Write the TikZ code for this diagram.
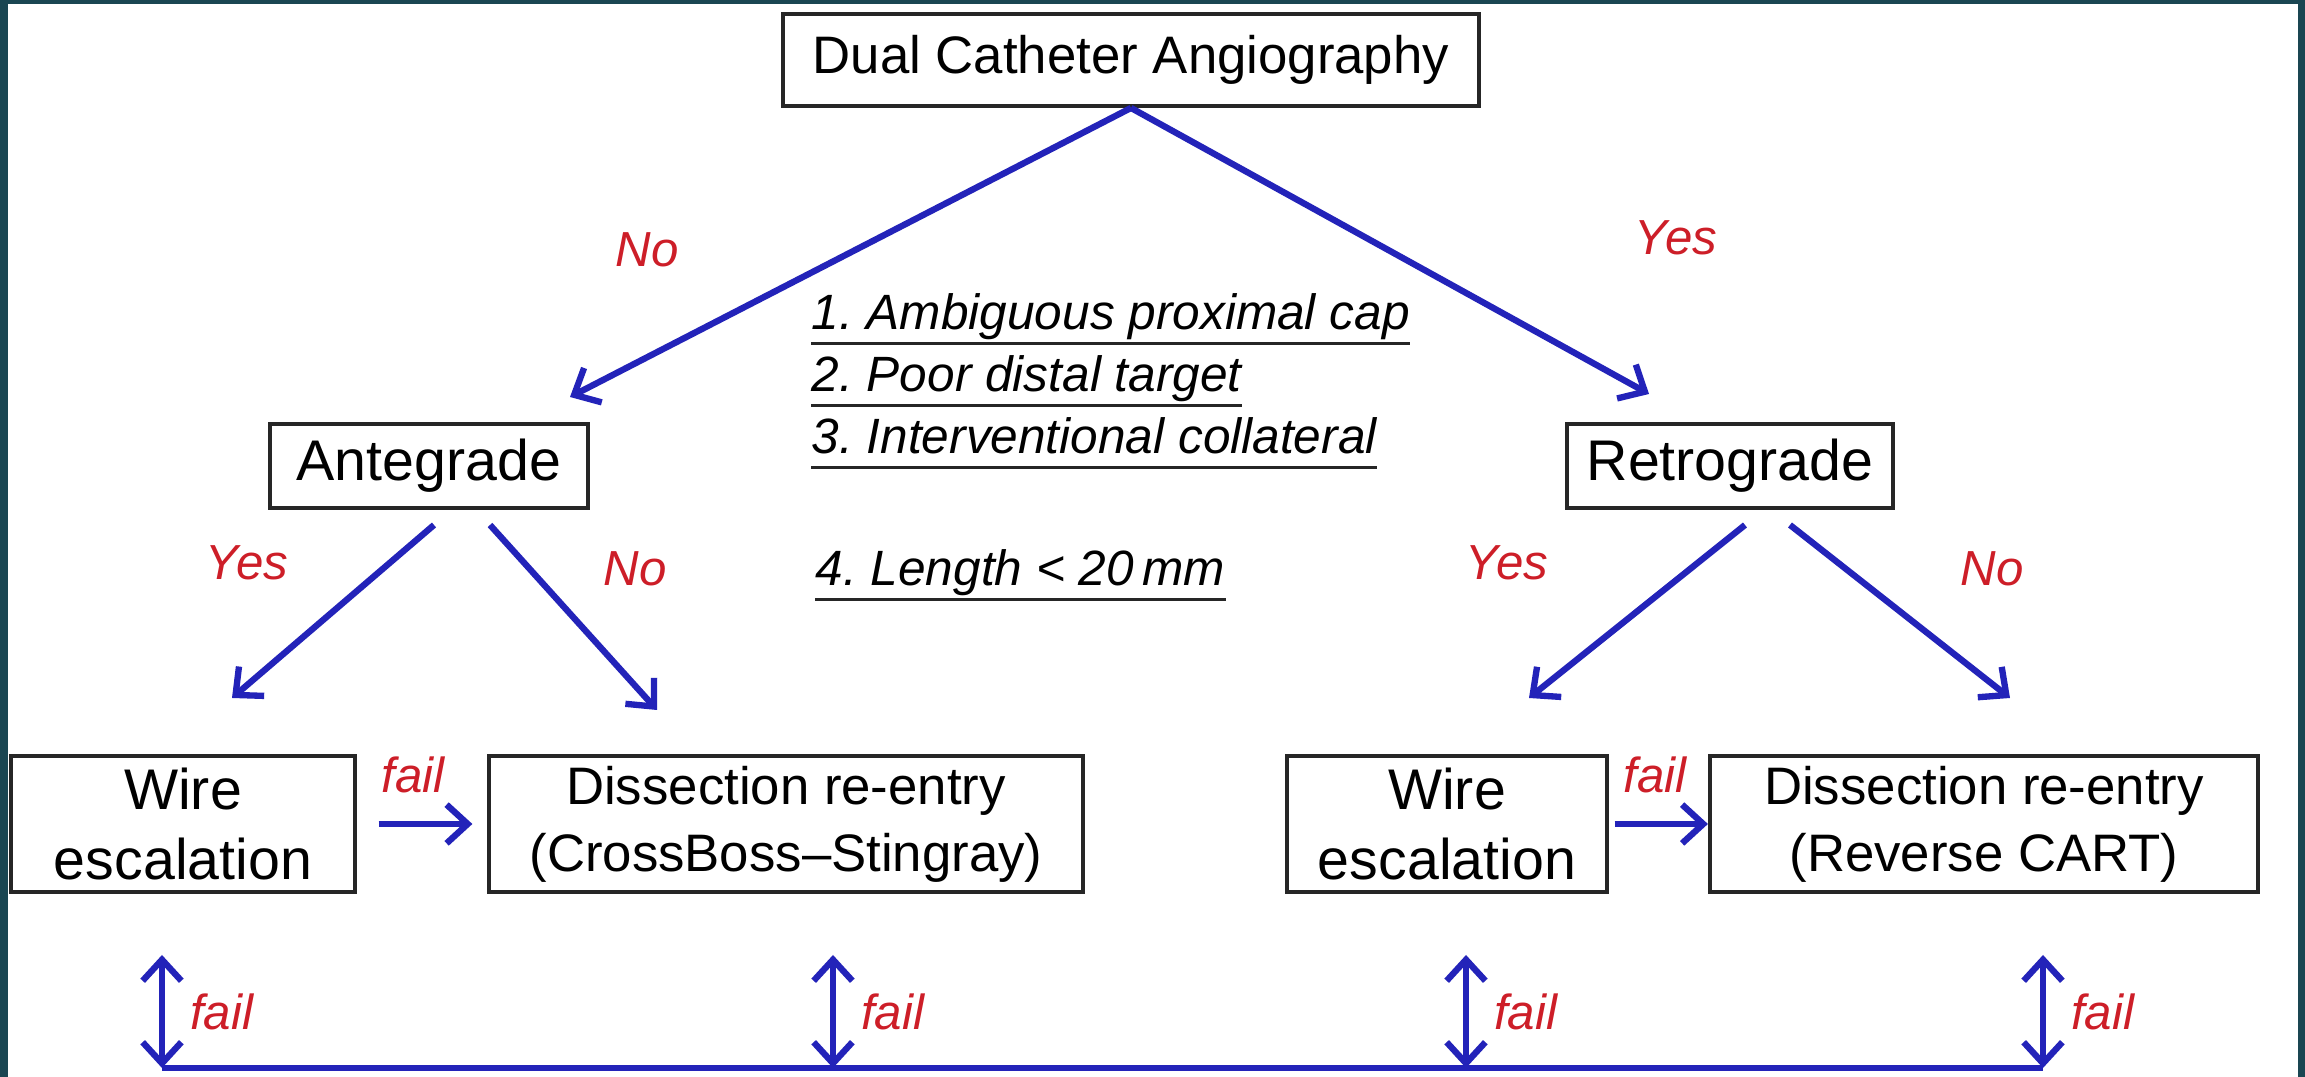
\documentclass[tikz,border=0pt]{standalone}
\usepackage{fontspec}
\setmainfont{Liberation Sans}
\usetikzlibrary{arrows.meta}
\definecolor{cadre}{RGB}{26,70,82}
\definecolor{bleu}{RGB}{35,35,185}
\definecolor{rouge}{RGB}{205,30,40}
\frenchspacing
\begin{document}
\begin{tikzpicture}[x=0.01cm,y=-0.01cm]
		\tikzstyle{fleche}=[-{Straight Barb[length=6pt,width=11pt]},line width=1.8pt,bleu]
		\tikzstyle{doublefleche}=[{Straight Barb[length=6pt,width=11pt]}-{Straight Barb[length=6pt,width=11pt]},line width=1.8pt,bleu]
		\tikzstyle{boite}=[draw=black!85,line width=1.1pt,fill=white,align=center,inner sep=0pt,font=\fontsize{15}{19}\selectfont]
		\tikzstyle{grande}=[font=\fontsize{16.3}{20}\selectfont]
		\tikzstyle{reponse}=[rouge,inner sep=0pt,font=\fontsize{14}{17}\selectfont\itshape]
		\tikzstyle{critere}=[anchor=base west,inner sep=0pt,font=\fontsize{14.1}{17}\selectfont\itshape]
		\tikzstyle{souligne}=[line width=0.9pt,black!85]
		
		\def\NiveauA{60}
		\def\NiveauB{466}
		\def\NiveauC{824}
		\def\NiveauD{1068}
		
		% cadre
		\useasboundingbox (0,0) rectangle (2305,1077);
		\fill[cadre] (0,0) rectangle (2305,1077);
		\fill[white] (8,4) rectangle (2298,1077);
		
		% boites
		\node[boite,minimum width=6.95cm,minimum height=0.92cm] (dca) at (1131,\NiveauA) {Dual Catheter Angiography};
		\node[boite,grande,minimum width=3.18cm,minimum height=0.84cm] (ante) at (429,\NiveauB) {Antegrade};
		\node[boite,grande,minimum width=3.25cm,minimum height=0.84cm] (retro) at (1730,\NiveauB) {Retrograde};
		\node[boite,grande,minimum width=3.43cm,minimum height=1.36cm] (filG) at (183,\NiveauC) {Wire\\escalation};
		\node[boite,minimum width=5.93cm,minimum height=1.36cm] (dissG) at (786,\NiveauC) {Dissection re-entry\\(CrossBoss--Stingray)};
		\node[boite,grande,minimum width=3.19cm,minimum height=1.36cm] (filD) at (1447,\NiveauC) {Wire\\escalation};
		\node[boite,minimum width=5.48cm,minimum height=1.36cm] (dissD) at (1984,\NiveauC) {Dissection re-entry\\(Reverse CART)};
		
		% criteres
		\node[critere] (c1) at (811,330) {1. Ambiguous proximal cap};
		\node[critere] (c2) at (811,392) {2. Poor distal target};
		\node[critere] (c3) at (811,454) {3. Interventional collateral};
		\node[critere] (c4) at (815,586) {4. Length < 20\,mm};
		\foreach \c in {c1,c2,c3,c4}
			\draw[souligne] ([yshift=-3.8pt]\c.base west) -- ([yshift=-3.8pt]\c.base east);
		
		% reponses
		\node[reponse] (non1) at (647,250) {No};
		\node[reponse] (oui1) at (1676,238) {Yes};
		\node[reponse] (oui2) at (247,563) {Yes};
		\node[reponse] (non2) at (635,569) {No};
		\node[reponse] (oui3) at (1507,563) {Yes};
		\node[reponse] (non3) at (1992,569) {No};
		
		% points d'arrivee
		\coordinate (anteIn) at (570,397);
		\coordinate (retroIn) at (1649,394);
		\coordinate (anteA) at (434,525);
		\coordinate (anteB) at (490,525);
		\coordinate (filGIn) at (232,698);
		\coordinate (dissGIn) at (657,710);
		\coordinate (retroA) at (1745,525);
		\coordinate (retroB) at (1790,525);
		\coordinate (filDIn) at (1529,698);
		\coordinate (dissDIn) at (2010,698);
		\coordinate (h1) at (162,955);
		\coordinate (h2) at (833,955);
		\coordinate (h3) at (1466,955);
		\coordinate (h4) at (2043,955);
		\coordinate (b1) at (162,\NiveauD);
		\coordinate (b2) at (833,\NiveauD);
		\coordinate (b3) at (1466,\NiveauD);
		\coordinate (b4) at (2043,\NiveauD);
		
		% fleches
		\draw[fleche] (dca.south) -- (anteIn);
		\draw[fleche] (dca.south) -- (retroIn);
		\draw[fleche] (anteA) -- (filGIn);
		\draw[fleche] (anteB) -- (dissGIn);
		\draw[fleche] (retroA) -- (filDIn);
		\draw[fleche] (retroB) -- (dissDIn);
		\draw[fleche] ([xshift=0.22cm]filG.east) -- ([xshift=-0.15cm]dissG.west)
			node[pos=0,anchor=south west,yshift=0.28cm,reponse] (echecG) {fail};
		\draw[fleche] ([xshift=0.06cm]filD.east) -- (dissD.west)
			node[pos=0,anchor=south west,xshift=0.06cm,yshift=0.28cm,reponse] (echecD) {fail};
		
		\draw[doublefleche] (h1) -- (b1) node[midway,right=0.25cm,reponse] (e1) {fail};
		\draw[doublefleche] (h2) -- (b2) node[midway,right=0.25cm,reponse] (e2) {fail};
		\draw[doublefleche] (h3) -- (b3) node[midway,right=0.25cm,reponse] (e3) {fail};
		\draw[doublefleche] (h4) -- (b4) node[midway,right=0.25cm,reponse] (e4) {fail};
		\draw[line width=1.8pt,bleu] (b1) -- (b4);
\end{tikzpicture}
\end{document}
